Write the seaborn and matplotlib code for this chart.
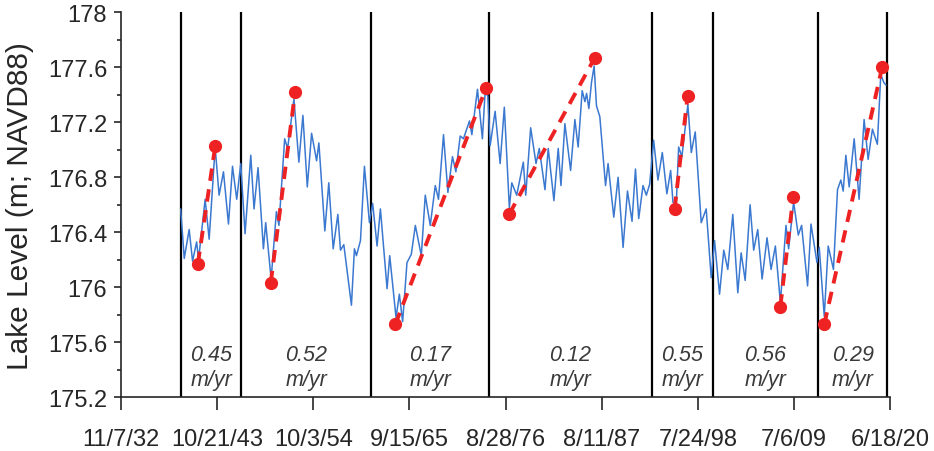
import numpy as np
import pandas as pd
import seaborn as sns
import matplotlib.pyplot as plt
from matplotlib.ticker import MultipleLocator

# lake level (seasonal highs / lows), decimal year -> m NAVD88
year = [1939.64, 1940.05, 1940.61, 1941.00, 1941.46, 1941.68, 1942.43, 1942.89, 1943.57, 1944.02,
        1944.52, 1945.09, 1945.55, 1946.03, 1946.49, 1946.98, 1947.63, 1948.00, 1948.46, 1949.07,
        1949.33, 1949.95, 1950.55, 1950.84, 1951.49, 1951.83, 1952.55, 1953.11, 1953.57, 1954.07,
        1954.56, 1955.13, 1955.39, 1956.07, 1956.52, 1957.02, 1957.55, 1957.85, 1958.23, 1959.10,
        1959.44, 1959.67, 1960.13, 1960.58, 1961.15, 1961.52, 1962.02, 1962.40, 1963.16, 1963.46,
        1964.18, 1964.56, 1964.93, 1965.43, 1965.92, 1966.38, 1967.06, 1967.51, 1968.08, 1968.65,
        1969.02, 1969.59, 1970.09, 1970.61, 1971.00, 1971.49, 1971.86, 1972.55, 1972.82, 1973.46,
        1974.02, 1974.33, 1974.64, 1974.90, 1975.47, 1976.04, 1976.52, 1977.09, 1977.37, 1977.93,
        1978.68, 1978.96, 1979.52, 1980.13, 1980.50, 1981.15, 1981.52, 1982.17, 1982.66, 1982.97,
        1983.42, 1984.07, 1984.56, 1984.93, 1985.39, 1985.70, 1985.89, 1986.15, 1986.45, 1986.75,
        1987.02, 1987.40, 1987.77, 1988.05, 1988.34, 1988.99, 1989.48, 1990.05, 1990.55, 1991.07,
        1991.46, 1991.83, 1992.32, 1992.70, 1993.08, 1993.53, 1994.02, 1994.52, 1995.04, 1995.47,
        1995.73, 1996.09, 1996.38, 1996.75, 1997.43, 1997.82, 1998.27, 1998.95, 1999.52, 2000.09,
        2000.47, 2001.04, 2001.52, 2001.98, 2002.55, 2003.12, 2003.50, 2003.96, 2004.52, 2004.93,
        2005.39, 2005.89, 2006.45, 2006.91, 2007.40, 2007.97, 2008.61, 2008.91, 2009.48, 2010.01,
        2010.39, 2011.07, 2011.46, 2012.14, 2012.40, 2012.97, 2013.42, 2014.02, 2014.48, 2014.86,
        2015.13, 2015.43, 2015.81, 2016.38, 2016.94, 2017.51, 2017.97, 2018.46, 2019.02, 2019.41,
        2019.75, 2020.01]
level = [176.57, 176.21, 176.42, 176.19, 176.33, 176.20, 176.64, 176.35, 177.02, 176.67,
         176.84, 176.46, 176.88, 176.64, 176.90, 176.39, 176.96, 176.57, 176.87, 176.28,
         176.47, 176.06, 176.55, 176.45, 177.08, 177.01, 177.37, 176.91, 177.25, 176.73,
         177.12, 176.92, 177.05, 176.41, 176.76, 176.28, 176.53, 176.27, 176.31, 175.87,
         176.28, 176.23, 176.34, 176.88, 176.47, 176.61, 176.30, 176.57, 175.99, 176.23,
         175.78, 175.95, 175.75, 176.18, 176.24, 176.45, 176.23, 176.67, 176.45, 176.74,
         176.64, 177.11, 176.69, 176.95, 176.84, 177.10, 177.08, 177.21, 177.11, 177.44,
         177.08, 177.42, 177.39, 177.03, 177.28, 176.90, 177.31, 176.58, 176.76, 176.67,
         176.91, 176.67, 177.16, 176.90, 177.01, 176.71, 177.01, 176.63, 177.01, 176.74,
         177.19, 176.85, 177.22, 177.02, 177.43, 177.35, 177.41, 177.30, 177.49, 177.61,
         177.32, 177.24, 176.96, 176.74, 176.90, 176.51, 176.80, 176.29, 176.70, 176.48,
         176.86, 176.50, 176.74, 176.67, 176.75, 177.07, 176.78, 176.98, 176.68, 176.85,
         176.62, 176.58, 177.02, 176.95, 177.33, 176.98, 177.13, 176.47, 176.57, 176.07,
         176.34, 175.95, 176.27, 176.13, 176.53, 175.96, 176.25, 176.05, 176.60, 176.27,
         176.42, 176.06, 176.36, 176.13, 176.30, 175.89, 176.45, 176.28, 176.62, 176.38,
         176.45, 176.01, 176.46, 176.18, 176.29, 175.79, 176.30, 176.13, 176.71, 176.78,
         176.70, 176.96, 176.73, 177.08, 176.64, 177.22, 176.93, 177.15, 177.04, 177.55,
         177.49, 177.47]

# period boundaries (decimal years)
breaks = [1939.64, 1946.57, 1961.34, 1974.78, 1993.34, 2000.24, 2012.28, 2020.16]

# rise segments: start / end points and rate labels
rise_x0 = [1941.60, 1949.90, 1964.10, 1977.06, 1995.92, 2007.97, 2012.97]
rise_y0 = [176.17, 176.03, 175.73, 176.53, 176.57, 175.86, 175.73]
rise_x1 = [1943.59, 1952.68, 1974.44, 1986.83, 1997.40, 2009.44, 2019.56]
rise_y1 = [177.03, 177.42, 177.45, 177.67, 177.39, 176.66, 177.60]
rates = ["0.45", "0.52", "0.17", "0.12", "0.55", "0.56", "0.29"]

# x tick dates (every 4000 days)
tick_dates = pd.date_range("1932-11-07", periods=9, freq="4000D")


def dec_year(d):
    n = 366 if d.is_leap_year else 365
    return d.year + (d.dayofyear - 1) / n


tick_pos = [dec_year(d) for d in tick_dates]
tick_lab = [f"{d.month}/{d.day}/{d.year % 100:02d}" for d in tick_dates]

df = pd.DataFrame({"year": year, "level": level})

sns.set_style("ticks")
plt.rcParams["font.family"] = ["Liberation Sans", "DejaVu Sans"]

fig = plt.figure(figsize=(9.34, 4.52), dpi=100)
ax = fig.add_axes([0.1296, 0.1188, 0.8233, 0.8518])

for b in breaks:
    ax.axvline(b, color="black", lw=1.6, zorder=1)

sns.lineplot(x="year", y="level", data=df, color="#3b78d0", lw=1.1, ax=ax, zorder=2)

for i in range(len(rates)):
    ax.plot([rise_x0[i], rise_x1[i]], [rise_y0[i], rise_y1[i]], color="#ee2222",
            lw=2.8, dashes=(3.2, 2.2), zorder=3)
    ax.plot([rise_x0[i], rise_x1[i]], [rise_y0[i], rise_y1[i]], "o", color="#ee2222",
            ms=8.5, zorder=4)
    mid = (breaks[i] + breaks[i + 1]) / 2
    ax.text(mid, 175.42, rates[i] + "\nm/yr", ha="center", va="center",
            fontsize=15.5, style="italic", color="#3a3a3a", linespacing=1.2)

ax.set_xlim(tick_pos[0], tick_pos[-1])
ax.set_ylim(175.2, 178)
ax.set_xticks(tick_pos)
ax.set_xticklabels(tick_lab)
ax.yaxis.set_minor_locator(MultipleLocator(0.2))
yt = np.arange(175.2, 178.01, 0.4).round(1)
ax.set_yticks(yt)
ax.set_yticklabels([f"{v:g}" for v in yt])

ax.tick_params(axis="x", which="major", length=9, width=1.2, pad=13, labelsize=17)
ax.tick_params(axis="y", which="major", length=5, width=1.2, pad=5, labelsize=17)
ax.tick_params(axis="y", which="minor", length=3, width=1.2)
for s in ["left", "bottom"]:
    ax.spines[s].set_linewidth(1.2)
sns.despine(ax=ax)

ax.set_xlabel("")
ax.set_ylabel("Lake Level (m; NAVD88)", fontsize=21.5, labelpad=10)

fig.savefig("out.png", dpi=100)
